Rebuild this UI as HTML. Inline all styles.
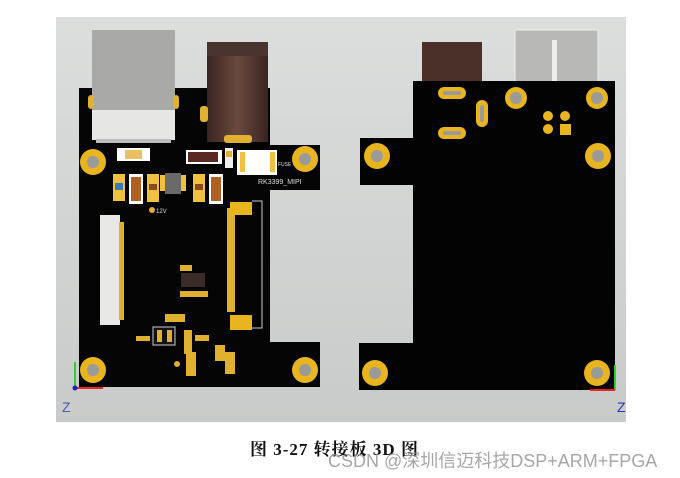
<!DOCTYPE html>
<html><head><meta charset="utf-8"><style>
html,body{margin:0;padding:0;background:#fff;width:680px;height:478px;overflow:hidden;position:relative}
svg{position:absolute;left:0;top:0}
.cap{position:absolute;left:250px;top:435px;font:bold 17px "Liberation Serif","Noto Serif CJK SC",serif;color:#111;letter-spacing:1px;white-space:nowrap}
.wm{position:absolute;left:328px;top:447px;font:18px "Liberation Sans","Noto Sans CJK SC",sans-serif;color:rgba(150,150,150,0.85);white-space:nowrap}
</style></head><body>
<svg width="680" height="478" viewBox="0 0 680 478">
<defs>
<linearGradient id="bg" x1="0" y1="0" x2="0" y2="1"><stop offset="0" stop-color="#dcdedd"/><stop offset="1" stop-color="#c9cbca"/></linearGradient>
<linearGradient id="br" x1="0" y1="0" x2="1" y2="0"><stop offset="0" stop-color="#3a2420"/><stop offset="0.5" stop-color="#6a4a40"/><stop offset="1" stop-color="#3a2420"/></linearGradient>
</defs>
<rect x="56" y="17" width="570" height="405" fill="url(#bg)"/>
<polygon points="79,88 270,88 270,145 320,145 320,190 270,190 270,342 320,342 320,387 79,387" fill="#050505"/>
<rect x="92" y="30" width="83" height="82" fill="#a9a9a8"/>
<rect x="92" y="110" width="83" height="30" fill="#e6e6e4"/>
<rect x="96" y="139" width="75" height="4" fill="#bbb"/>
<rect x="88" y="95" width="6" height="14" rx="3" fill="#e0b030"/>
<rect x="173" y="95" width="6" height="14" rx="3" fill="#e0b030"/>
<rect x="207" y="42" width="61" height="100" fill="url(#br)"/>
<rect x="207" y="42" width="61" height="14" fill="#4a3430"/>
<rect x="200" y="106" width="8" height="16" rx="3" fill="#e0b030"/>
<rect x="224" y="135" width="28" height="8" rx="3" fill="#e0b030"/>
<g fill="#e8b420"><circle cx="93" cy="162" r="13"/><circle cx="305" cy="159" r="13"/><circle cx="93" cy="370" r="13"/><circle cx="305" cy="370" r="13"/></g>
<g fill="#9a9a98"><circle cx="93" cy="162" r="6"/><circle cx="305" cy="159" r="6"/><circle cx="93" cy="370" r="6"/><circle cx="305" cy="370" r="6"/></g>
<rect x="117" y="148" width="33" height="13" fill="#fff"/><rect x="125" y="150" width="17" height="9" fill="#e8c060"/>
<rect x="186" y="150" width="36" height="14" fill="#fff"/><rect x="188" y="152" width="30" height="10" fill="#5a2a22"/>
<rect x="225" y="148" width="8" height="20" fill="#eee"/><rect x="226" y="151" width="6" height="6" fill="#e0b030"/>
<rect x="237" y="150" width="40" height="25" fill="#fff"/><rect x="240" y="152" width="5" height="20" fill="#f0c040"/><rect x="270" y="152" width="5" height="20" fill="#f0c040"/>
<rect x="113" y="174" width="12" height="27" fill="#f0c040"/><rect x="115" y="183" width="8" height="7" fill="#3a7ab0"/>
<rect x="129" y="174" width="14" height="30" fill="#fff"/><rect x="131" y="177" width="10" height="24" fill="#b06020"/>
<rect x="147" y="174" width="12" height="28" fill="#f0c040"/><rect x="149" y="184" width="8" height="6" fill="#8a4a20"/>
<rect x="160" y="175" width="26" height="16" fill="#f0c040"/><rect x="165" y="173" width="16" height="21" fill="#6a6a6a"/>
<rect x="193" y="174" width="12" height="28" fill="#f0c040"/><rect x="195" y="184" width="8" height="6" fill="#8a4a20"/>
<rect x="209" y="174" width="14" height="30" fill="#fff"/><rect x="211" y="177" width="10" height="24" fill="#b06020"/>
<circle cx="152" cy="210" r="3" fill="#e0b030"/>
<text x="156" y="213" font-family="Liberation Sans" font-size="6" fill="#ddd">12V</text>
<text x="258" y="184" font-family="Liberation Sans" font-size="7" fill="#ddd">RK3399_MIPI</text>
<text x="278" y="166" font-family="Liberation Sans" font-size="5" fill="#ddd">FUSE</text>
<rect x="100" y="215" width="20" height="110" fill="#e8e8e6"/>
<rect x="119" y="222" width="5" height="98" fill="#e0b030"/>
<rect x="227" y="208" width="8" height="104" fill="#e0b030"/>
<rect x="230" y="202" width="22" height="13" fill="#e8b420"/>
<rect x="230" y="315" width="22" height="15" fill="#e8b420"/>
<polyline points="252,201 262,201 262,328 252,328" fill="none" stroke="#ccc" stroke-width="1"/>
<rect x="180" y="265" width="12" height="6" fill="#e0b030"/>
<rect x="181" y="273" width="24" height="14" fill="#3a2a28"/>
<rect x="180" y="291" width="28" height="6" fill="#e0b030"/>
<rect x="165" y="314" width="20" height="8" fill="#e0b030"/>
<rect x="153" y="327" width="22" height="18" fill="#111" stroke="#ccc"/>
<rect x="157" y="330" width="5" height="12" fill="#e0b030"/><rect x="167" y="330" width="5" height="12" fill="#e0b030"/>
<rect x="136" y="336" width="14" height="5" fill="#e0b030"/>
<rect x="184" y="330" width="8" height="24" fill="#e0b030"/>
<rect x="195" y="335" width="14" height="6" fill="#e0b030"/>
<rect x="186" y="352" width="10" height="24" fill="#e0b030"/>
<rect x="215" y="345" width="10" height="16" fill="#e0b030"/>
<rect x="225" y="352" width="10" height="22" fill="#e0b030"/>
<circle cx="177" cy="364" r="3" fill="#e0b030"/>
<line x1="75" y1="388" x2="75" y2="362" stroke="#3c3" stroke-width="2"/>
<line x1="75" y1="388" x2="103" y2="388" stroke="#e22" stroke-width="2"/>
<circle cx="75" cy="388" r="2.5" fill="#22b"/>
<text x="62" y="412" font-family="Liberation Sans" font-size="14" fill="#55a">Z</text>
<rect x="422" y="42" width="60" height="40" fill="#4a3028"/>
<rect x="515" y="30" width="83" height="52" fill="#b8b8b6" stroke="#eee"/>
<rect x="552" y="40" width="5" height="42" fill="#eee"/>
<polygon points="413,81 615,81 615,390 359,390 359,343 413,343 413,185 360,185 360,138 413,138" fill="#030303"/>
<g fill="#e8b420"><circle cx="377" cy="156" r="13"/><circle cx="598" cy="156" r="13"/><circle cx="375" cy="373" r="13"/><circle cx="597" cy="373" r="13"/><circle cx="516" cy="98" r="11"/><circle cx="597" cy="98" r="11"/>
<rect x="438" y="87" width="28" height="12" rx="6"/><rect x="438" y="127" width="28" height="12" rx="6"/><rect x="476" y="100" width="12" height="27" rx="6"/>
<circle cx="548" cy="116" r="5"/><circle cx="565" cy="116" r="5"/><circle cx="548" cy="129" r="5"/><rect x="560" y="124" width="11" height="11"/></g>
<g fill="#9a9a98"><circle cx="377" cy="156" r="6"/><circle cx="598" cy="156" r="6"/><circle cx="375" cy="373" r="6"/><circle cx="597" cy="373" r="6"/><circle cx="516" cy="98" r="6"/><circle cx="597" cy="98" r="6"/>
<rect x="443" y="91" width="18" height="4" rx="2"/><rect x="443" y="131" width="18" height="4" rx="2"/><rect x="480" y="105" width="4" height="17" rx="2"/></g>
<line x1="615" y1="390" x2="615" y2="365" stroke="#3c3" stroke-width="2"/>
<line x1="615" y1="390" x2="590" y2="390" stroke="#e22" stroke-width="2"/>
<text x="617" y="412" font-family="Liberation Sans" font-size="14" fill="#33a">Z</text>
</svg>
<div class="cap">图 3-27 转接板 3D 图</div>
<div class="wm">CSDN @深圳信迈科技DSP+ARM+FPGA</div>
</body></html>
